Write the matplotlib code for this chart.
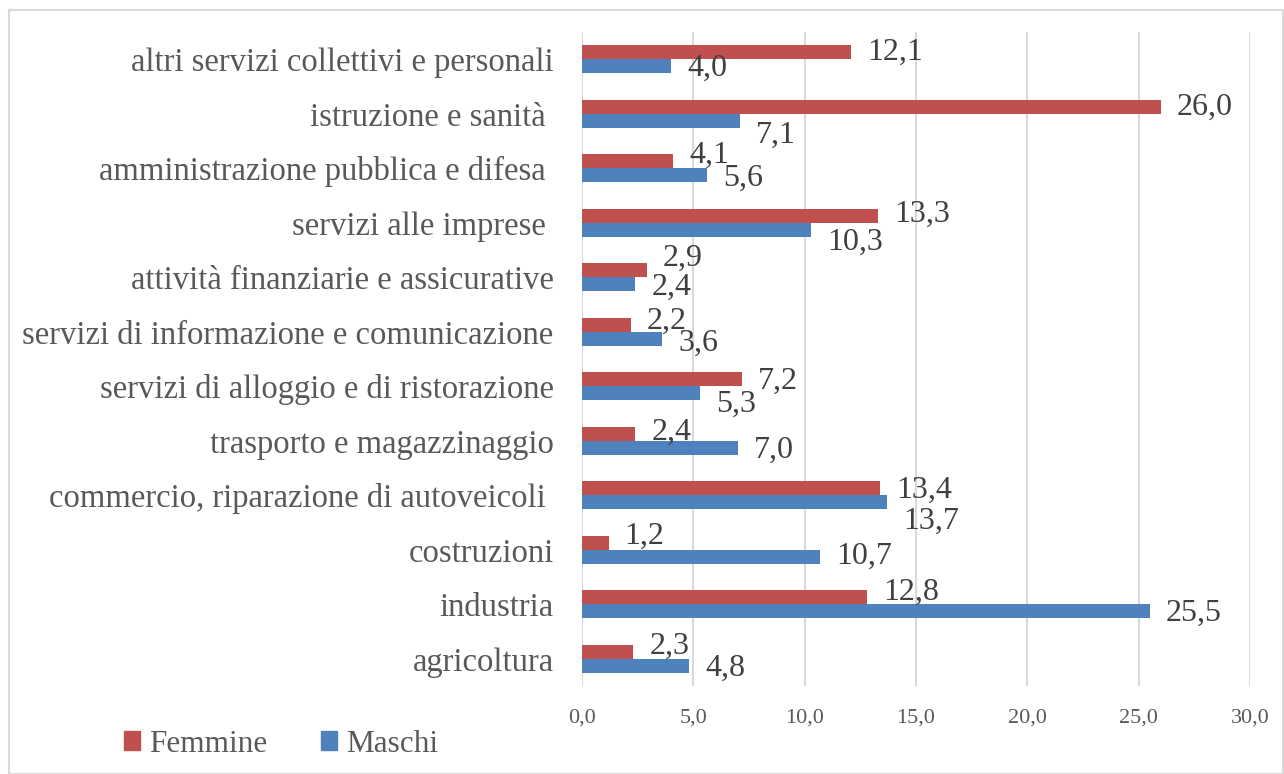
import matplotlib
matplotlib.use("Agg")
import matplotlib.pyplot as plt
from matplotlib.patches import Rectangle, Patch
import numpy as np

categories = ["agricoltura", "industria", "costruzioni", "commercio, riparazione di autoveicoli ",
              "trasporto e magazzinaggio", "servizi di alloggio e di ristorazione",
              "servizi di informazione e comunicazione", "attività finanziarie e assicurative",
              "servizi alle imprese ", "amministrazione pubblica e difesa ",
              "istruzione e sanità ", "altri servizi collettivi e personali"]
femmine = [2.3, 12.8, 1.2, 13.4, 2.4, 7.2, 2.2, 2.9, 13.3, 4.1, 26.0, 12.1]
maschi = [4.8, 25.5, 10.7, 13.7, 7.0, 5.3, 3.6, 2.4, 10.3, 5.6, 7.1, 4.0]
xticks = [0, 5, 10, 15, 20, 25, 30]

# label vertical nudges (pixels, positive = up) mimicking Excel's overlap avoidance
f_nudge = [5, 5, 6, -2, 1, -2, 3, 12, 1, 6, -1, 0]
m_nudge = [-3, -2, 0, -19, -3, -11, -5, -3, -13, -3, -15, -2]

RED = "#C0504D"
BLUE = "#4F81BD"
FONT = "Liberation Serif"

fig = plt.figure(figsize=(12.84, 7.74), dpi=100)
fig.patches.append(Rectangle((9/1284, 0), 1 - 9/1284 - 1/1284, 1 - 10/774,
                             transform=fig.transFigure, fill=False,
                             edgecolor="#D9D9D9", linewidth=1.5))

ax = fig.add_axes([582/1284, 1 - 686/774, (1250 - 582)/1284, (686 - 32)/774])
y = np.arange(len(categories))
h = 0.257
ax.barh(y + h/2, femmine, height=h, color=RED, label="Femmine", zorder=3)
ax.barh(y - h/2, maschi, height=h, color=BLUE, label="Maschi", zorder=3)

px = 72 / 100  # points per pixel
for i in range(len(categories)):
    ax.annotate(f"{femmine[i]:.1f}".replace(".", ","), (femmine[i], y[i] + h/2),
                xytext=(16 * px, f_nudge[i] * px), textcoords="offset points",
                va="center", ha="left", fontsize=23, family=FONT, color="#404040")
    ax.annotate(f"{maschi[i]:.1f}".replace(".", ","), (maschi[i], y[i] - h/2),
                xytext=(16 * px, m_nudge[i] * px), textcoords="offset points",
                va="center", ha="left", fontsize=23, family=FONT, color="#404040")

ax.set_xlim(0, 30)
ax.set_ylim(-0.5, len(categories) - 0.5)
ax.set_xticks(xticks)
ax.set_xticklabels([f"{t:.1f}".replace(".", ",") for t in xticks],
                   fontsize=16, family=FONT, color="#595959")
ax.set_yticks(y)
ax.set_yticklabels(categories, fontsize=23.5, family=FONT, color="#595959")
ax.tick_params(axis="both", length=0)
ax.tick_params(axis="x", pad=16)
ax.tick_params(axis="y", pad=20.5)
ax.grid(axis="x", color="#D9D9D9", linewidth=1.5, zorder=0)
for s in ax.spines.values():
    s.set_visible(False)

handles = [Patch(color=RED, label="Femmine"), Patch(color=BLUE, label="Maschi")]
fig.legend(handles=handles, loc="center left", bbox_to_anchor=(102/1284, 1 - 744/774),
           ncol=2, frameon=False, prop={"family": FONT, "size": 22.5},
           handlelength=0.52, handleheight=0.52, handletextpad=0.3, columnspacing=1.7,
           labelcolor="#595959", borderpad=0.2)

fig.savefig("out.png", dpi=100)
